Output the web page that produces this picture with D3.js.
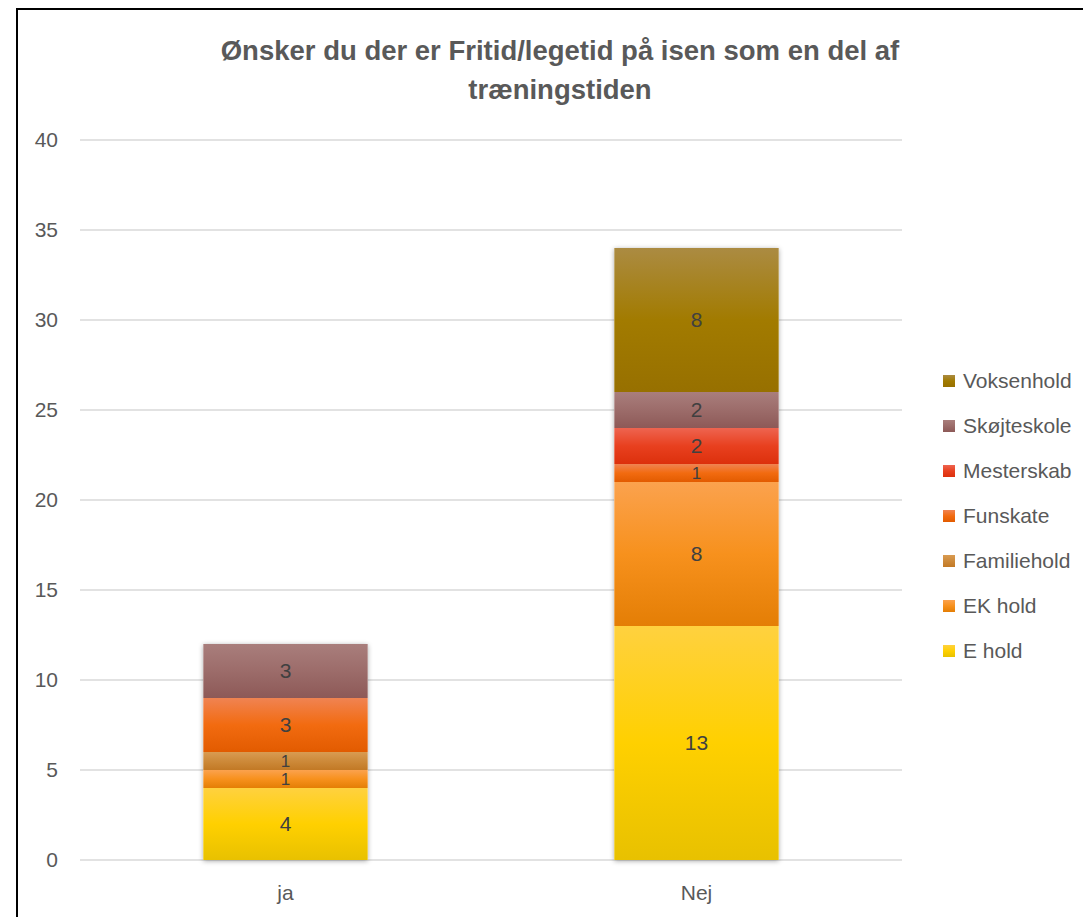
<!DOCTYPE html>
<html>
<head>
<meta charset="utf-8">
<script src="https://cdn.jsdelivr.net/npm/d3@7"></script>
<style>
  body { margin: 0; background: #fff; }
  text { font-family: "Liberation Sans", "Open Sans", sans-serif; }
</style>
</head>
<body>
<div id="chart"></div>
<script>
// data
var categories = ["ja", "Nej"];
var seriesNames = ["E hold", "EK hold", "Familiehold", "Funskate", "Mesterskab", "Skøjteskole", "Voksenhold"];
var eHold       = [4, 13];
var ekHold      = [1, 8];
var familiehold = [1, 0];
var funskate    = [3, 1];
var mesterskab  = [0, 2];
var skojteskole = [3, 2];
var voksenhold  = [0, 8];
var yTicks = [0, 5, 10, 15, 20, 25, 30, 35, 40];

var seriesValues = [eHold, ekHold, familiehold, funskate, mesterskab, skojteskole, voksenhold];

// gradient stops: top, middle, bottom
var colors = [
    ["#ffd13f", "#ffd000", "#e8c100"],
    ["#fba24e", "#f7911d", "#e47e05"],
    ["#d99b52", "#cd8a3a", "#c27925"],
    ["#f08352", "#f26b10", "#e25b00"],
    ["#ee6450", "#e8401f", "#dc300c"],
    ["#a97e7c", "#9c6c6a", "#8d5957"],
    ["#ab8b42", "#a27b00", "#977000"]
];

var W = 1083, H = 917;
var margin = {left: 80, right: 181, top: 140, bottom: 57};

var svg = d3.select("#chart").append("svg")
    .attr("width", W)
    .attr("height", H);

var defs = svg.append("defs");
colors.forEach(function(c, i){
    var lg = defs.append("linearGradient")
        .attr("id", "grad" + i)
        .attr("x1", 0).attr("y1", 0).attr("x2", 0).attr("y2", 1);
    lg.append("stop").attr("offset", "0%").attr("stop-color", c[0]);
    lg.append("stop").attr("offset", "50%").attr("stop-color", c[1]);
    lg.append("stop").attr("offset", "100%").attr("stop-color", c[2]);
});
var shadow = defs.append("filter").attr("id", "shadow")
    .attr("x", "-20%").attr("y", "-5%").attr("width", "140%").attr("height", "110%");
shadow.append("feDropShadow")
    .attr("dx", 0).attr("dy", 1).attr("stdDeviation", 2.5)
    .attr("flood-color", "#000").attr("flood-opacity", 0.35);

// outer frame (cropped at right and bottom)
svg.append("rect")
    .attr("x", 17).attr("y", 9)
    .attr("width", W + 20).attr("height", H + 20)
    .attr("fill", "none")
    .attr("stroke", "#000")
    .attr("stroke-width", 2);

// title
var title = svg.append("text")
    .attr("text-anchor", "middle")
    .attr("font-size", "27.5px")
    .attr("font-weight", "bold")
    .attr("fill", "#595959");
title.append("tspan").attr("x", 560).attr("y", 60).text("Ønsker du der er Fritid/legetid på isen som en del af");
title.append("tspan").attr("x", 560).attr("y", 99).text("træningstiden");

var x = d3.scaleBand()
    .domain(categories)
    .range([margin.left, W - margin.right])
    .paddingInner(0.6)
    .paddingOuter(0.3);

var y = d3.scaleLinear()
    .domain([0, 40])
    .range([H - margin.bottom, margin.top]);

// gridlines
svg.append("g").selectAll("line")
    .data(yTicks)
    .enter()
    .append("line")
    .attr("x1", margin.left).attr("x2", W - margin.right)
    .attr("y1", d => y(d)).attr("y2", d => y(d))
    .style("stroke", "#d9d9d9")
    .style("stroke-width", 1.3);

// y tick labels
svg.append("g").selectAll("text")
    .data(yTicks)
    .enter()
    .append("text")
    .attr("x", 58)
    .attr("y", d => y(d))
    .attr("dy", "0.35em")
    .attr("text-anchor", "end")
    .attr("font-size", "21px")
    .attr("fill", "#595959")
    .text(d => d);

// x labels
svg.append("g").selectAll("text")
    .data(categories)
    .enter()
    .append("text")
    .attr("x", d => x(d) + x.bandwidth() / 2)
    .attr("y", 893)
    .attr("dy", "0.35em")
    .attr("text-anchor", "middle")
    .attr("font-size", "21px")
    .attr("fill", "#595959")
    .text(d => d);

// stacked data
var rows = categories.map(function(c, ci){
    var r = {cat: c};
    seriesNames.forEach(function(s, si){ r[s] = seriesValues[si][ci]; });
    return r;
});
var stacked = d3.stack().keys(seriesNames)(rows);

var barLayer = svg.append("g");
// shadow behind full bars
barLayer.selectAll("rect.bg")
    .data(rows)
    .enter()
    .append("rect")
    .attr("class", "bg")
    .attr("x", d => x(d.cat))
    .attr("width", x.bandwidth())
    .attr("y", d => y(d3.sum(seriesNames, s => d[s])))
    .attr("height", d => y(0) - y(d3.sum(seriesNames, s => d[s])))
    .attr("fill", "#fff")
    .attr("filter", "url(#shadow)");

stacked.forEach(function(layer, i){
    barLayer.append("g").selectAll("rect")
        .data(layer.filter(d => d[1] - d[0] > 0))
        .enter()
        .append("rect")
        .attr("x", d => x(d.data.cat))
        .attr("width", x.bandwidth())
        .attr("y", d => y(d[1]))
        .attr("height", d => y(d[0]) - y(d[1]))
        .attr("fill", "url(#grad" + i + ")");
});

// value labels
stacked.forEach(function(layer){
    svg.append("g").selectAll("text")
        .data(layer.filter(d => d[1] - d[0] > 0))
        .enter()
        .append("text")
        .attr("x", d => x(d.data.cat) + x.bandwidth() / 2)
        .attr("y", d => (y(d[0]) + y(d[1])) / 2)
        .attr("dy", "0.35em")
        .attr("text-anchor", "middle")
        .attr("font-size", d => (d[1] - d[0]) < 2 ? "17px" : "21px")
        .attr("fill", "#404040")
        .text(d => d[1] - d[0]);
});

// legend (reversed order)
var legendItems = seriesNames.map((s, i) => ({name: s, i: i})).reverse();
var legend = svg.append("g");
var lg = legend.selectAll("g")
    .data(legendItems)
    .enter()
    .append("g")
    .attr("transform", (d, k) => "translate(943," + (381 + k * 45) + ")");
lg.append("rect")
    .attr("x", 0).attr("y", -6)
    .attr("width", 12).attr("height", 12)
    .attr("fill", d => "url(#grad" + d.i + ")");
lg.append("text")
    .attr("x", 20)
    .attr("y", 0)
    .attr("dy", "0.35em")
    .attr("font-size", "21px")
    .attr("fill", "#595959")
    .text(d => d.name);
</script>
</body>
</html>
